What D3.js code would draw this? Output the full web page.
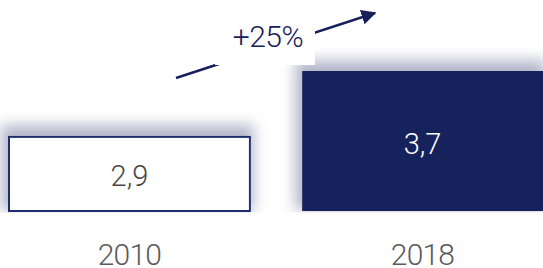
<!DOCTYPE html>
<html>
<head>
<meta charset="utf-8">
<script src="https://cdn.jsdelivr.net/npm/d3@7"></script>
<style>
  html, body { margin: 0; padding: 0; background: #fff; }
  svg { display: block; font-family: Roboto, Lato, sans-serif; font-weight: 300; }
</style>
</head>
<body>
<svg id="svg" width="543" height="268"></svg>
<script>
// chart data
let years = ['2010', '2018'];
let values = [2.9, 3.7];
let valueLabels = ['2,9', '3,7'];
let changeLabel = '+25%';

let width = 543, height = 268;
let navy = '#17205b';

let svg = d3.select('#svg');

// x: bands, y: value axis starts at 2 (not zero)
let x = d3.scaleBand()
    .domain(years)
    .range([9, 543])
    .paddingInner(0.178)
    .paddingOuter(0);

let y = d3.scaleLinear()
    .domain([2, 3.7])
    .range([211, 71]);

// soft shadow around the bars (spread + blur, pushed up a bit)
let defs = svg.append('defs');
let filt = defs.append('filter')
    .attr('id', 'shadow')
    .attr('x', '-30%').attr('y', '-60%')
    .attr('width', '160%').attr('height', '200%');
filt.append('feMorphology')
    .attr('in', 'SourceAlpha')
    .attr('operator', 'dilate')
    .attr('radius', 5)
    .attr('result', 'spread');
filt.append('feGaussianBlur')
    .attr('in', 'spread')
    .attr('stdDeviation', 7)
    .attr('result', 'blur');
filt.append('feOffset')
    .attr('in', 'blur')
    .attr('dx', -2).attr('dy', -6)
    .attr('result', 'off');
filt.append('feFlood')
    .attr('flood-color', '#b4b7cb')
    .attr('result', 'col');
filt.append('feComposite')
    .attr('in', 'col').attr('in2', 'off')
    .attr('operator', 'in')
    .attr('result', 'shade');
let merge = filt.append('feMerge');
merge.append('feMergeNode').attr('in', 'shade');
merge.append('feMergeNode').attr('in', 'SourceGraphic');

// shadow stops at the baseline
defs.append('clipPath')
    .attr('id', 'clip')
    .append('rect')
    .attr('x', 0).attr('y', 0)
    .attr('width', width).attr('height', y(2) + 1.5);

defs.append('marker')
    .attr('id', 'arrow')
    .attr('viewBox', '0 0 10 10')
    .attr('refX', 9).attr('refY', 5)
    .attr('markerWidth', 6).attr('markerHeight', 6)
    .attr('markerUnits', 'strokeWidth')
    .attr('orient', 'auto')
    .append('path')
    .attr('d', 'M0,0 L10,5 L0,10 Z')
    .attr('fill', navy);

// bars
svg.append('g')
    .attr('clip-path', 'url(#clip)')
    .selectAll('.bar')
    .data(values)
    .join('rect')
    .classed('bar', true)
    .attr('x', (d, i) => x(years[i]))
    .attr('y', d => y(d))
    .attr('width', x.bandwidth())
    .attr('height', d => y(2) - y(d))
    .attr('fill', (d, i) => i == 0 ? '#fff' : navy)
    .attr('stroke', (d, i) => i == 0 ? '#1c2f6e' : navy)
    .attr('stroke-width', (d, i) => i == 0 ? 2 : 0)
    .attr('filter', 'url(#shadow)');

// value labels inside bars
svg.selectAll('.val')
    .data(values)
    .join('text')
    .classed('val', true)
    .attr('x', (d, i) => x(years[i]) + x.bandwidth() / 2)
    .attr('y', d => (y(d) + y(2)) / 2 + 12.5)
    .attr('text-anchor', 'middle')
    .attr('font-size', 29)
    .attr('fill', (d, i) => i == 0 ? '#474747' : '#fff')
    .text((d, i) => valueLabels[i]);

// year labels
svg.selectAll('.year')
    .data(years)
    .join('text')
    .classed('year', true)
    .attr('x', d => x(d) + x.bandwidth() / 2)
    .attr('y', 265)
    .attr('text-anchor', 'middle')
    .attr('font-size', 30)
    .attr('letter-spacing', -0.8)
    .attr('fill', '#5a5a5a')
    .text(d => d);

// growth arrow with a white box for the label
svg.append('line')
    .attr('x1', 176).attr('y1', 78)
    .attr('x2', 375).attr('y2', 13)
    .attr('stroke', navy)
    .attr('stroke-width', 2.5)
    .attr('marker-end', 'url(#arrow)');

svg.append('rect')
    .attr('x', 215).attr('y', 16)
    .attr('width', 100).attr('height', 49)
    .attr('fill', '#fff');

svg.append('text')
    .attr('x', 268).attr('y', 47)
    .attr('text-anchor', 'middle')
    .attr('font-size', 30)
    .attr('letter-spacing', -0.5)
    .attr('fill', navy)
    .text(changeLabel);
</script>
</body>
</html>
